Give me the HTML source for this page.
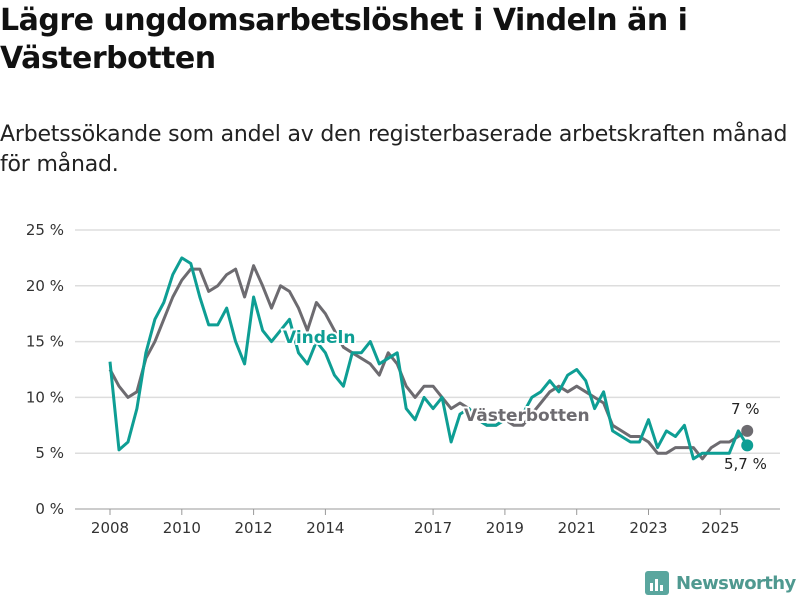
<!DOCTYPE html>
<html><head><meta charset="utf-8"><style>
body{margin:0;width:800px;height:600px;background:#fff;font-family:"Liberation Sans","DejaVu Sans",sans-serif;overflow:hidden}
h1{position:absolute;left:0;top:2px;margin:0;font-size:30px;line-height:38px;font-weight:bold;color:#111;width:790px;font-family:"DejaVu Sans",sans-serif;letter-spacing:-0.5px}
.sub{position:absolute;left:0;top:120px;font-size:22px;line-height:30px;color:#222;width:800px;white-space:nowrap;font-family:"DejaVu Sans",sans-serif;letter-spacing:-0.2px}
</style></head><body>
<h1>Lägre ungdomsarbetslöshet i Vindeln än i Västerbotten</h1>
<div class="sub">Arbetssökande som andel av den registerbaserade arbetskraften månad<br>för månad.</div>
<svg id="c" width="800" height="600" style="position:absolute;left:0;top:0"></svg>
<script>
const yTicks=[0,5,10,15,20,25];
const xTicks=[2008,2010,2012,2014,2017,2019,2021,2023,2025];
const vindeln=[13.2,5.3,6,9,14,17,18.5,21,22.5,22,19,16.5,16.5,18,15,13,19,16,15,16,17,14,13,15,14,12,11,14,14,15,13,13.5,14,9,8,10,9,10,6,8.5,9,8,7.5,7.5,8,8,8.5,10,10.5,11.5,10.5,12,12.5,11.5,9,10.5,7,6.5,6,6,8,5.5,7,6.5,7.5,4.5,5,5,5,5,7,5.7];
const vasterbotten=[12.5,11,10,10.5,13.5,15,17,19,20.5,21.5,21.5,19.5,20,21,21.5,19,21.8,20,18,20,19.5,18,16,18.5,17.5,16,14.5,14,13.5,13,12,14,13,11,10,11,11,10,9,9.5,9,8,7.5,7.5,8,7.5,7.5,8.5,9.5,10.5,11,10.5,11,10.5,10,9.5,7.5,7,6.5,6.5,6,5,5,5.5,5.5,5.5,4.5,5.5,6,6,6.5,7];
const startYear=2008, step=0.25;
const svg=document.getElementById('c');const NS='http://www.w3.org/2000/svg';
const X=t=>110+(t-2008)*35.9, Y=v=>509-v*11.16;
function mk(tag,a){const e=document.createElementNS(NS,tag);for(const k in a)e.setAttribute(k,a[k]);svg.appendChild(e);return e;}
yTicks.forEach(v=>{
 const l=mk('line',{x1:75,x2:780,y1:Y(v),y2:Y(v),stroke:v===0?'#bbb':'#ddd','stroke-width':1.5});
 
 
 const t=mk('text',{x:64,y:Y(v)+5,'text-anchor':'end','font-size':15,fill:'#333','font-family':'DejaVu Sans'});t.textContent=v+' %';
 
 
});
xTicks.forEach(yr=>{
 const tk=mk('line',{x1:X(yr),x2:X(yr),y1:509,y2:515,stroke:'#999'});
 
 
 const t=mk('text',{x:X(yr),y:533,'text-anchor':'middle','font-size':15,fill:'#333','font-family':'DejaVu Sans'});t.textContent=yr;
 
 
});
function line(d,col,name){
 const pts=d.map((v,i)=>X(startYear+i*step).toFixed(1)+','+Y(v).toFixed(1)).join(' ');
 const p=mk('polyline',{points:pts,fill:'none',stroke:col,'stroke-width':3,'stroke-linejoin':'round'});
 
 
 const n=d.length-1;
 const c=mk('circle',{cx:X(startYear+n*step),cy:Y(d[n]),r:6,fill:col});
 
 
}
line(vasterbotten,'#6d6b70','vasterbotten');
line(vindeln,'#0e9e94','vindeln');
function lab(x,y,txt,col,name,size,w){
 const t=mk('text',{x:x,y:y,'font-size':size,'font-weight':w,fill:col,stroke:'#fff','stroke-width':4,'paint-order':'stroke','font-family':'DejaVu Sans'});t.textContent=txt;
 
 
}
lab(283,343,'Vindeln','#0e9e94','vindeln-label',17,'bold');
lab(464,421,'Västerbotten','#6d6b70','vasterbotten-label',17,'bold');
lab(731,414,'7 %','#222','vasterbotten-end-value',15,'normal');
lab(724,469,'5,7 %','#222','vindeln-end-value',15,'normal');
</script>
<div style="position:absolute;left:645px;top:570px;height:26px;display:flex;align-items:center">
<svg width="24" height="24"><rect x="0" y="0" width="24" height="24" rx="3" fill="#5aa69e"/><rect x="5" y="12" width="3" height="8" fill="#fff"/><rect x="10" y="8" width="3" height="12" fill="#fff"/><rect x="15" y="14" width="3" height="6" fill="#fff"/></svg>
<span style="margin-left:7px;font-size:18px;font-weight:bold;color:#4f9990;font-family:'DejaVu Sans',sans-serif;letter-spacing:-0.6px">Newsworthy</span></div>
</body></html>
